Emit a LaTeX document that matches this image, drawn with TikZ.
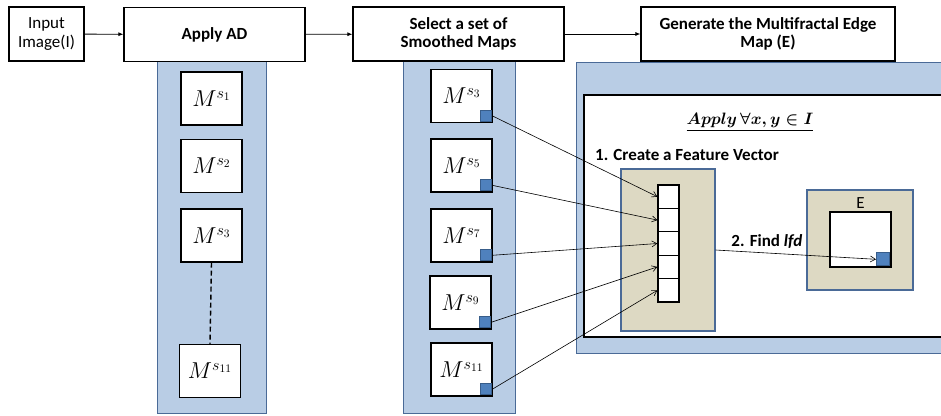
\RequirePackage{fix-cm}
\documentclass[tikz,border=0pt]{standalone}
\usepackage[no-math]{fontspec}
\setmainfont{Carlito}
\usepackage{amsmath}
\usepackage{amssymb}
\usetikzlibrary{arrows.meta,positioning}
\definecolor{panelblue}{HTML}{B9CDE5}
\definecolor{panelline}{HTML}{4A6A97}
\definecolor{tanfill}{HTML}{DDD9C3}
\definecolor{pixblue}{HTML}{4F81BD}
\definecolor{pixline}{HTML}{385D8A}

\begin{document}
\begin{tikzpicture}[x=1pt, y=-1pt, >={Latex[length=5pt, width=4pt]},
    stage/.style={draw, line width=1.2pt, fill=white, align=center, inner sep=0pt,
        minimum height=54pt, font=\fontsize{17}{18.5}\selectfont},
    boldstage/.style={stage, font=\fontsize{17}{18.5}\selectfont\bfseries},
    mapbox/.style={draw, line width=1.4pt, fill=white, minimum width=61pt, minimum height=53pt,
        inner sep=0pt, font=\fontsize{23}{26}\selectfont},
    pix/.style={draw=pixline, fill=pixblue, line width=0.8pt, minimum size=11pt, inner sep=0pt},
    panel/.style={draw=panelline, fill=panelblue, line width=1pt},
    tanbox/.style={draw=panelline, fill=tanfill, line width=1.1pt, inner sep=0pt},
    cell/.style={draw, line width=1.2pt, fill=white, minimum width=21pt, minimum height=23.4pt, inner sep=0pt},
    feat/.style={->, >={Straight Barb[length=5pt, width=6pt]}, line width=0.6pt},
    label/.style={font=\fontsize{17}{18.5}\selectfont\bfseries}]
    \clip (0, 0) rectangle (941, 415);

    % column panels and the edge map panel
    \draw [panel] (157, 55) rectangle (266, 413);
    \draw [panel] (403, 55) rectangle (515, 413);
    \draw [panel] (576, 62) rectangle (960, 353);
    \draw [line width=1.4pt, fill=white] (584, 95) rectangle (960, 337);

    % pipeline stages
    \node [stage, minimum width=75pt] (input) at (46.5, 34) {Input\\Image(I)};
    \node [boldstage, minimum width=181pt] (ad) at (214.5, 34.5) {Apply AD};
    \node [boldstage, minimum width=211pt] (sel) at (458.5, 34) {Select a set of\\Smoothed Maps};
    \node [boldstage, minimum width=254pt] (gen) at (768, 34) {Generate the Multifractal Edge\\Map (E)};
    \draw [->, line width=0.8pt] (input) -- (ad);
    \draw [->, line width=0.8pt] (ad) -- (sel);
    \draw [->, line width=0.8pt] (sel) -- (gen);

    % smoothed maps from AD
    \node [mapbox] (m1) at (211.5, 98.5) {$M^{s_1}$};
    \node [mapbox] (m2) at (211.5, 166) {$M^{s_2}$};
    \node [mapbox] (m3) at (211.5, 235.5) {$M^{s_3}$};
    \node [mapbox] (m11) at (210, 371) {$M^{s_{11}}$};
    \draw [line width=1.4pt, dash pattern=on 5pt off 3pt] (m3.south) -- (m11.north);

    % selected maps
    \foreach \n/\x/\y in {3/461.5/96, 5/461.5/165.5, 7/461.5/235.5, 9/460.5/302.5, 11/461.5/369.5} {
        \node [mapbox] (s\n) at (\x, \y) {$M^{s_{\n}}$};
        \node [pix, above left=1.5pt and 0.5pt of s\n.south east] (p\n) {};
    }

    % feature vector
    \node [font=\fontsize{16.5}{19}\selectfont\boldmath] (apply) at (750, 122) {$\underline{Apply\,\forall x, y \in I}$};
    \node [label] (create) at (687, 155) {1. Create a Feature Vector};
    \node [tanbox, minimum width=94pt, minimum height=162pt] (fv) at (668, 250) {};
    \foreach \i in {1,...,5}
        \node [cell] (c\i) at (668.5, 185+23.4*\i-11.7) {};
    \foreach \n/\c in {3/1, 5/2, 7/3, 9/4, 11/5}
        \draw [feat] (p\n.east) -- (c\c.west);

    % edge map
    \node [tanbox, minimum width=106pt, minimum height=100pt] (ebox) at (860, 240) {};
    \node [draw, line width=1.4pt, fill=white, minimum width=61pt, minimum height=55pt] (emap) at (860.5, 239.5) {};
    \node [above=-1pt of emap, font=\fontsize{17}{18.5}\selectfont] (elabel) {E};
    \node [pix, minimum size=13pt, above left=1.5pt and 2pt of emap.south east] (epix) {};
    \draw [feat] (fv.east) -- node [label, pos=0.32, above=1pt] (find) {2. Find \textit{lfd}} (epix.west);
\end{tikzpicture}
\end{document}
